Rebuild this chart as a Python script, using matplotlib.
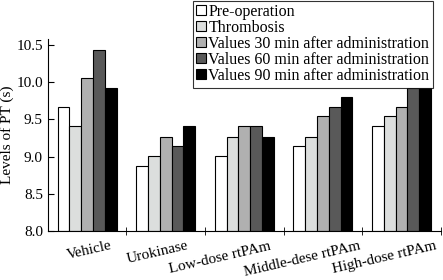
import numpy as np
import matplotlib
matplotlib.use('Agg')
from matplotlib import pyplot as plt
from matplotlib.transforms import ScaledTranslation

plt.rcParams['font.family'] = ['Liberation Serif', 'DejaVu Serif']

groups = ['Vehicle', 'Urokinase', 'Low-dose rtPAm', 'Middle-dese rtPAm', 'High-dose rtPAm']
series = ['Pre-operation', 'Thrombosis',
          'Values 30 min after administration',
          'Values 60 min after administration',
          'Values 90 min after administration']
pre_op = [9.66, 8.87, 9.01, 9.14, 9.41]
thrombosis = [9.41, 9.01, 9.26, 9.26, 9.54]
min30 = [10.05, 9.26, 9.41, 9.54, 9.66]
min60 = [10.43, 9.14, 9.41, 9.66, 9.92]
min90 = [9.92, 9.41, 9.26, 9.80, 9.92]
colors = ['#ffffff', '#dcdedd', '#b0b0b0', '#595959', '#000000']

values = [pre_op, thrombosis, min30, min60, min90]

fig = plt.figure(figsize=(4.43, 2.80), dpi=100)
ax = fig.add_axes([0.108, 0.175, 0.887, 0.686])

x = np.arange(len(groups))
w = 0.15
for i in range(5):
    ax.bar(x + (i - 2) * w, np.array(values[i]) - 8.0, w, bottom=8.0,
           color=colors[i], edgecolor='black', linewidth=0.8, label=series[i])

ax.set_xlim(-0.5, 4.5)
ax.set_ylim(8.0, 10.58)
ax.set_yticks([8.0, 8.5, 9.0, 9.5, 10.0, 10.5])
ax.set_yticklabels(['8.0', '8.5', '9.0', '9.5', '10.0', '10.5'], fontsize=11)
ax.tick_params(axis='y', direction='in', length=4)

ax.set_xticks(x)
ax.set_xticklabels(groups, fontsize=11, rotation=13, ha='right',
                   rotation_mode='anchor')
ax.tick_params(axis='x', length=0, pad=6)
# shift each label to the right (in pixels) like the original
shifts = [23, 21, 25, 36, 33]
for lab, s in zip(ax.get_xticklabels(), shifts):
    lab.set_transform(lab.get_transform() + ScaledTranslation(s / 100, 0, fig.dpi_scale_trans))
ax.set_xticks(np.arange(0.5, 5.0, 1.0), minor=True)
ax.tick_params(axis='x', which='minor', direction='inout', length=6)

ax.spines['top'].set_visible(False)
ax.spines['right'].set_visible(False)
ax.set_ylabel('Levels of PT (s)', fontsize=11, labelpad=2)

leg = ax.legend(loc='upper right', bbox_to_anchor=(0.98, 1.2), fontsize=11.5,
                frameon=True, fancybox=False, edgecolor='black',
                handlelength=0.6, handleheight=0.6, handletextpad=0.15,
                labelspacing=0.0, borderpad=0.22, borderaxespad=0)
leg.get_frame().set_linewidth(0.8)

plt.savefig('out.png', dpi=100)
